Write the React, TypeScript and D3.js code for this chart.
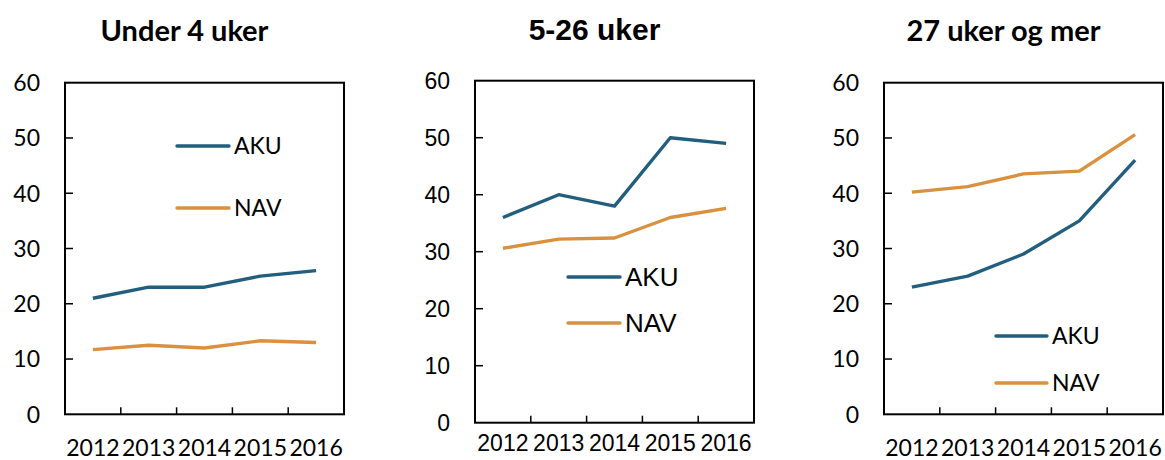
import React from 'react';
import * as d3 from 'd3';

const years = ['2012', '2013', '2014', '2015', '2016'];
const yTicks = [0, 10, 20, 30, 40, 50, 60];
const seriesNames = ['AKU', 'NAV'];

const akuUnder4 = [21, 23, 23, 25, 26];
const navUnder4 = [11.7, 12.5, 12, 13.3, 13];
const aku5to26 = [36, 40, 38, 50, 49];
const nav5to26 = [30.6, 32.2, 32.4, 36, 37.6];
const aku27plus = [23, 25, 29, 35, 46];
const nav27plus = [40.2, 41.2, 43.5, 44, 50.6];

const colors = ['#235e7e', '#d9913f'];

type PanelProps = {
  title: string;
  aku: number[];
  nav: number[];
  box: { x0: number; x1: number; y0: number; y1: number };
  titleY: number;
  titleSize: number;
  font: string;
  tickSize: number;
  xLabelY: number;
  legend: { x0: number; x1: number; y: number[]; size: number };
};

function Panel(p: PanelProps) {
  const { box } = p;
  const x = d3.scaleBand<string>().domain(years).range([box.x0, box.x1]).padding(0);
  const y = d3.scaleLinear().domain([0, 60]).range([box.y1, box.y0]);
  const cx = (d: string) => (x(d) as number) + x.bandwidth() / 2;
  const line = d3
    .line<number>()
    .x((_, i) => cx(years[i]))
    .y(d => y(d));
  const series = [p.aku, p.nav];
  const titleX = (box.x0 + box.x1) / 2 - 20;

  return (
    <g fontFamily={p.font}>
      <text x={titleX} y={p.titleY} textAnchor="middle" fontWeight="bold" fontSize={p.titleSize}>
        {p.title}
      </text>
      {/* y axis labels + inner ticks */}
      {yTicks.map(t => (
        <g key={t}>
          <text x={box.x0 - 25} y={y(t)} dy="0.36em" textAnchor="end" fontSize={p.tickSize}>
            {t}
          </text>
          {t > 0 && t < 60 && (
            <line x1={box.x0} x2={box.x0 + 8} y1={y(t)} y2={y(t)} stroke="#000" strokeWidth={1.5} />
          )}
        </g>
      ))}
      {/* x ticks between categories */}
      {years.slice(1).map(d => (
        <line key={d} x1={x(d)} x2={x(d)} y1={box.y1} y2={box.y1 - 7} stroke="#000" strokeWidth={1.5} />
      ))}
      {years.map(d => (
        <text key={d} x={cx(d)} y={p.xLabelY} textAnchor="middle" fontSize={p.tickSize}>
          {d}
        </text>
      ))}
      <rect x={box.x0} y={box.y0} width={box.x1 - box.x0} height={box.y1 - box.y0} fill="none" stroke="#000" strokeWidth={2} />
      {series.map((s, i) => (
        <path key={i} d={line(s) || ''} fill="none" stroke={colors[i]} strokeWidth={3.4} strokeLinejoin="round" />
      ))}
      {seriesNames.map((n, i) => (
        <g key={n}>
          <line x1={p.legend.x0} x2={p.legend.x1} y1={p.legend.y[i]} y2={p.legend.y[i]} stroke={colors[i]} strokeWidth={3.4} strokeLinecap="round" />
          <text x={p.legend.x1 + 5} y={p.legend.y[i]} dy="0.36em" fontSize={p.legend.size}>
            {n}
          </text>
        </g>
      ))}
    </g>
  );
}

export default function App() {
  const calibri = 'Lato, "Open Sans", sans-serif';
  const arial = '"Liberation Sans", Arial, sans-serif';
  return (
    <svg width={1165} height={460} style={{ position: 'absolute', left: 0, top: 0, background: '#fff' }}>
      <Panel
        title="Under 4 uker"
        aku={akuUnder4}
        nav={navUnder4}
        box={{ x0: 65, x1: 344, y0: 82.7, y1: 414.3 }}
        titleY={41}
        titleSize={29}
        font={calibri}
        tickSize={23}
        xLabelY={456}
        legend={{ x0: 177, x1: 229, y: [146, 208], size: 23 }}
      />
      <Panel
        title="5-26 uker"
        aku={aku5to26}
        nav={nav5to26}
        box={{ x0: 475, x1: 754, y0: 80.7, y1: 422.7 }}
        titleY={40}
        titleSize={30}
        font={arial}
        tickSize={23}
        xLabelY={451}
        legend={{ x0: 568, x1: 620, y: [277, 323], size: 26 }}
      />
      <Panel
        title="27 uker og mer"
        aku={aku27plus}
        nav={nav27plus}
        box={{ x0: 884, x1: 1163, y0: 82.7, y1: 414.3 }}
        titleY={41}
        titleSize={29}
        font={calibri}
        tickSize={23}
        xLabelY={456}
        legend={{ x0: 996, x1: 1047, y: [336, 383], size: 23 }}
      />
    </svg>
  );
}
